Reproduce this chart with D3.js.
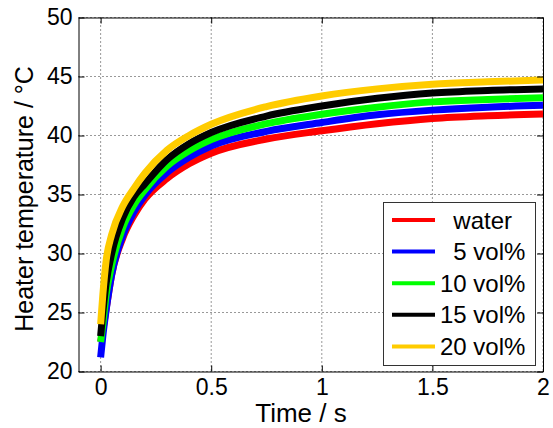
<!DOCTYPE html>
<html>
<head>
<meta charset="utf-8">
<script src="https://cdn.jsdelivr.net/npm/d3@7"></script>
<style>
  body { margin: 0; background: #fff; }
  text { font-family: "Liberation Sans", Arial, sans-serif; fill: #000; }
</style>
</head>
<body>
<div id="chart"></div>
<script>
// data
const times = [0, 0.01, 0.025, 0.05, 0.1, 0.15, 0.2, 0.3, 0.4, 0.5, 0.75, 1.0, 1.25, 1.5, 1.75, 2.0];
const water  = [22.5, 23.5, 25.3, 28.2, 31.3, 33.2, 34.6, 36.35, 37.6, 38.5, 39.7, 40.4, 41.0, 41.45, 41.68, 41.82];
const vol5   = [21.2, 23.0, 25.2, 28.2, 31.5, 33.5, 34.95, 36.85, 38.15, 39.1, 40.35, 41.1, 41.75, 42.15, 42.4, 42.56];
const vol10  = [22.5, 24.0, 26.5, 29.0, 32.2, 34.1, 35.4, 37.4, 38.7, 39.65, 41.0, 41.8, 42.4, 42.85, 43.05, 43.2];
const vol15  = [23.0, 25.0, 27.5, 30.0, 33.0, 34.8, 35.9, 37.95, 39.3, 40.25, 41.65, 42.5, 43.15, 43.6, 43.82, 43.95];
const vol20  = [24.0, 26.5, 29.4, 31.6, 34.0, 35.5, 36.8, 38.75, 40.0, 40.95, 42.45, 43.35, 43.95, 44.35, 44.55, 44.7];

const seriesNames = ["  water", "  5 vol%", "10 vol%", "15 vol%", "20 vol%"];
const seriesValues = [water, vol5, vol10, vol15, vol20];
const seriesColors = ["#ff0000", "#0000ff", "#00ff00", "#000000", "#ffcc00"];

const xTicks = [0, 0.5, 1, 1.5, 2];
const yTicks = [20, 25, 30, 35, 40, 45, 50];

const W = 553, H = 428;
const margin = { top: 17.5, right: 10, bottom: 56.5, left: 78.5 };
const width = W - margin.left - margin.right;
const height = H - margin.top - margin.bottom;

const svg = d3.select("#chart")
  .append("svg")
  .attr("width", W)
  .attr("height", H);

const g = svg.append("g")
  .attr("transform", `translate(${margin.left},${margin.top})`);

const x = d3.scaleLinear().domain([-0.1, 2]).range([0, width]);
const y = d3.scaleLinear().domain([20, 50]).range([height, 0]);

// grid
g.append("g")
  .selectAll("line")
  .data(xTicks)
  .join("line")
  .attr("x1", d => x(d)).attr("x2", d => x(d))
  .attr("y1", 0).attr("y2", height)
  .attr("stroke", "#333")
  .attr("stroke-dasharray", "1,3");

g.append("g")
  .selectAll("line")
  .data(yTicks)
  .join("line")
  .attr("x1", 0).attr("x2", width)
  .attr("y1", d => y(d)).attr("y2", d => y(d))
  .attr("stroke", "#333")
  .attr("stroke-dasharray", "1,3");

// curves
const line = d3.line()
  .x((d, i) => x(times[i]))
  .y(d => y(d))
  .curve(d3.curveMonotoneX);

seriesValues.forEach((vals, k) => {
  g.append("path")
    .datum(vals)
    .attr("fill", "none")
    .attr("stroke", seriesColors[k])
    .attr("stroke-width", 7)
    .attr("d", line);
});

// axes with inward ticks on all four sides
const axBottom = g.append("g")
  .attr("transform", `translate(0,${height})`)
  .call(d3.axisBottom(x).tickValues(xTicks).tickSizeInner(-6).tickSizeOuter(0).tickPadding(7).tickFormat(d3.format("")));
const axTop = g.append("g")
  .call(d3.axisTop(x).tickValues(xTicks).tickSizeInner(-6).tickSizeOuter(0).tickFormat(""));
const axLeft = g.append("g")
  .call(d3.axisLeft(y).tickValues(yTicks).tickSizeInner(-6).tickSizeOuter(0).tickPadding(6));
const axRight = g.append("g")
  .attr("transform", `translate(${width},0)`)
  .call(d3.axisRight(y).tickValues(yTicks).tickSizeInner(-6).tickSizeOuter(0).tickFormat(""));

[axBottom, axTop, axLeft, axRight].forEach(a => {
  a.select(".domain").attr("stroke", "#000");
  a.selectAll(".tick line").attr("stroke", "#000");
  a.selectAll("text")
    .style("font-family", "'Liberation Sans', Arial, sans-serif")
    .style("font-size", "23px")
    .attr("fill", "#000");
});

// axis labels
svg.append("text")
  .attr("x", 301)
  .attr("y", 422)
  .attr("text-anchor", "middle")
  .style("font-size", "26px")
  .text("Time / s");

svg.append("text")
  .attr("transform", "translate(33,199) rotate(-90)")
  .attr("text-anchor", "middle")
  .style("font-size", "25px")
  .text("Heater temperature / \u00B0C");

// legend
const legend = svg.append("g");
legend.append("rect")
  .attr("x", 383.5).attr("y", 202.5)
  .attr("width", 152).attr("height", 163)
  .attr("fill", "#fff")
  .attr("stroke", "#333");

seriesNames.forEach((name, k) => {
  const ry = 220 + k * 31.6;
  legend.append("line")
    .attr("x1", 392).attr("x2", 435)
    .attr("y1", ry).attr("y2", ry)
    .attr("stroke", seriesColors[k])
    .attr("stroke-width", 4);
  legend.append("text")
    .attr("x", 440)
    .attr("y", ry)
    .attr("dy", "0.36em")
    .style("font-size", "24px")
    .style("white-space", "pre")
    .text(name);
});
</script>
</body>
</html>
